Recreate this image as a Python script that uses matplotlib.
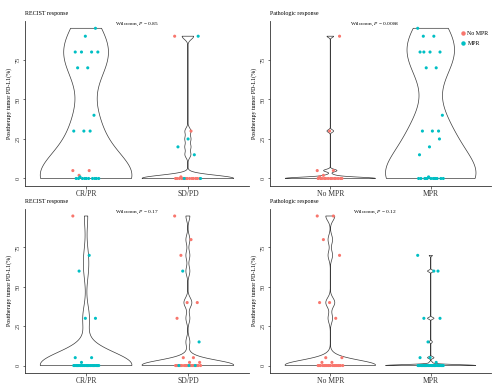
import numpy as np
import matplotlib.pyplot as plt
from matplotlib.lines import Line2D

plt.rcParams['font.family'] = ['Liberation Serif', 'DejaVu Serif']
plt.rcParams['mathtext.fontset'] = 'custom'
plt.rcParams['mathtext.rm'] = 'Liberation Serif'
plt.rcParams['mathtext.it'] = 'Liberation Serif:italic'

RED = '#F8766D'
CYAN = '#00BFC4'

# top row, PD-L1 values split by RECIST group and MPR status
top_crpr_mpr = [95, 90, 80, 80, 80, 80, 70, 70, 40, 30, 30, 30, 1] + [0] * 10
top_crpr_nompr = [5, 5, 2]
top_sdpd_mpr = [90, 25, 20, 15, 0, 0]
top_sdpd_nompr = [90, 30, 1] + [0] * 13

# bottom row
bot_crpr_mpr = [70, 60, 30, 30, 5, 5, 2] + [0] * 25
bot_crpr_nompr = [95]
bot_sdpd_mpr = [60, 15, 0, 0, 0]
bot_sdpd_nompr = [95, 80, 70, 40, 40, 30, 5, 5, 2, 2] + [0] * 18

recist_labels = ['CR/PR', 'SD/PD']
mpr_labels = ['No MPR', 'MPR']
p_values = ['0.85', '0.0088', '0.17', '0.12']

# kernel bandwidths per violin (panel A, B, C, D)
bandwidths = [(15, 2), (0.8, 15), (8, 3), (3, 0.6)]


def group(a, a_col, b, b_col):
    vals = list(a) + list(b)
    cols = [a_col] * len(a) + [b_col] * len(b)
    return vals, cols


def violin(ax, pos, vals, h):
    v = np.asarray(vals, float)
    y = np.linspace(v.min(), v.max(), 512)
    d = np.exp(-0.5 * ((y[:, None] - v[None, :]) / h) ** 2).sum(1)
    half = 0.45 * d / d.max()
    xs = np.concatenate([pos - half, (pos + half)[::-1]])
    ys = np.concatenate([y, y[::-1]])
    ax.fill(xs, ys, facecolor='white', edgecolor='#3a3a3a', lw=0.5, zorder=1)


def jitter_points(ax, pos, vals, cols):
    n = len(vals)
    offs = ((np.arange(n) * 0.6180339887) % 1.0 - 0.5) * 0.26
    ax.scatter(pos + offs, vals, s=5, c=cols, linewidths=0, zorder=3)


def panel(ax, title, labels, groups, bws, p, px):
    for i, (vals, cols) in enumerate(groups):
        violin(ax, i + 1, vals, bws[i])
        jitter_points(ax, i + 1, vals, cols)
    ax.set_xlim(0.4, 2.6)
    ax.set_ylim(-4.75, 99.75)
    ax.set_xticks([1, 2])
    ax.set_xticklabels(labels, fontsize=5.5)
    ax.set_yticks([0, 25, 50, 75])
    ax.set_yticklabels(['0', '25', '50', '75'], fontsize=4.5, rotation=90, va='center')
    ax.tick_params(length=1.8, width=0.5, pad=1.2, colors='#333333')
    for s in ['top', 'right']:
        ax.spines[s].set_visible(False)
    for s in ['left', 'bottom']:
        ax.spines[s].set_linewidth(0.6)
        ax.spines[s].set_color('#333333')
    ax.set_ylabel('Posttherapy tumor PD-L1(%)', fontsize=4.3, labelpad=2.5)
    ax.text(0, 1.045, title, transform=ax.transAxes, ha='left', va='center', fontsize=4.3)
    ax.text(px, 97.5, 'Wilcoxon, $\\mathit{P}$ = ' + p, ha='center', va='center', fontsize=3.9)


fig = plt.figure(figsize=(4.94, 3.91), dpi=100)
axA = fig.add_axes([0.0506, 0.5243, 0.4534, 0.4225])
axB = fig.add_axes([0.5466, 0.5243, 0.4474, 0.4225])
axC = fig.add_axes([0.0506, 0.046, 0.4534, 0.4207])
axD = fig.add_axes([0.5466, 0.046, 0.4474, 0.4207])

panel(axA, 'RECIST response', recist_labels,
      [group(top_crpr_nompr, RED, top_crpr_mpr, CYAN),
       group(top_sdpd_nompr, RED, top_sdpd_mpr, CYAN)],
      bandwidths[0], p_values[0], 1.5)
panel(axB, 'Pathologic response', mpr_labels,
      [group(top_crpr_nompr, RED, top_sdpd_nompr, RED),
       group(top_crpr_mpr, CYAN, top_sdpd_mpr, CYAN)],
      bandwidths[1], p_values[1], 1.44)
panel(axC, 'RECIST response', recist_labels,
      [group(bot_crpr_nompr, RED, bot_crpr_mpr, CYAN),
       group(bot_sdpd_nompr, RED, bot_sdpd_mpr, CYAN)],
      bandwidths[2], p_values[2], 1.5)
panel(axD, 'Pathologic response', mpr_labels,
      [group(bot_crpr_nompr, RED, bot_sdpd_nompr, RED),
       group(bot_crpr_mpr, CYAN, bot_sdpd_mpr, CYAN)],
      bandwidths[3], p_values[3], 1.44)

handles = [Line2D([], [], marker='o', ls='', color=RED, markersize=2.2, label='No MPR'),
           Line2D([], [], marker='o', ls='', color=CYAN, markersize=2.2, label='MPR')]
axB.legend(handles=handles, loc='upper left', bbox_to_anchor=(0.85, 0.955), frameon=False,
           fontsize=4.3, handletextpad=0.2, handlelength=1.0, labelspacing=0.9, borderaxespad=0)

fig.savefig('out.png', dpi=100)
